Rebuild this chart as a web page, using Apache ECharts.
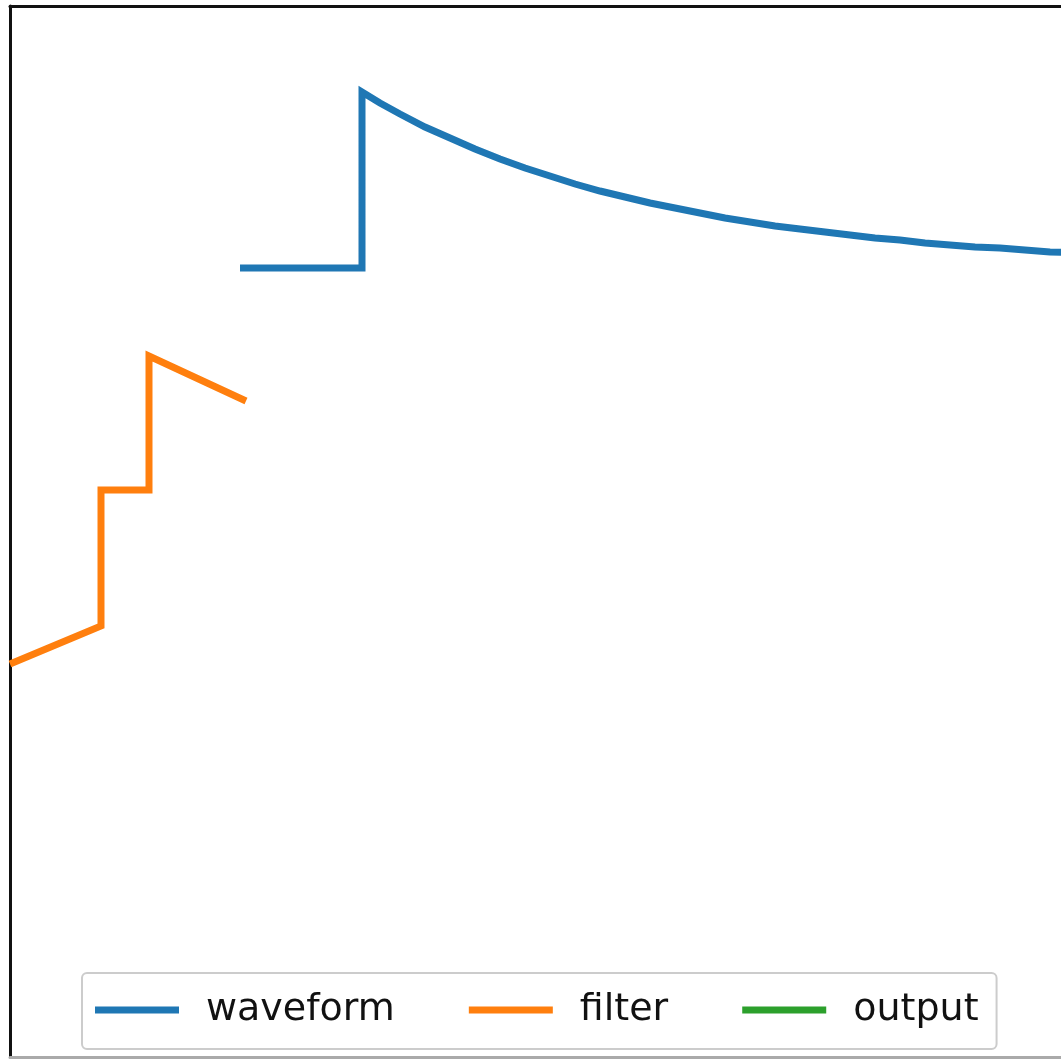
<!DOCTYPE html>
<html>
<head>
<meta charset="utf-8">
<script src="https://cdn.jsdelivr.net/npm/echarts@6/dist/echarts.min.js"></script>
<style>
  html, body { margin: 0; padding: 0; background: #fff; }
  #chart { width: 1061px; height: 1062px; }
</style>
</head>
<body>
<div id="chart"></div>
<script>
// series names
const seriesNames = ['waveform', 'filter', 'output']

// [time, amplitude] pairs
const waveformData = [
  [2.30, 7.89], [3.52, 7.89], [3.52, 9.65], [3.70, 9.54], [3.90, 9.43],
  [4.15, 9.30], [4.40, 9.19], [4.65, 9.08], [4.90, 8.98], [5.15, 8.89],
  [5.40, 8.81], [5.65, 8.73], [5.90, 8.66], [6.15, 8.60], [6.40, 8.54],
  [6.65, 8.49], [6.90, 8.44], [7.15, 8.39], [7.40, 8.35], [7.65, 8.31],
  [7.90, 8.28], [8.15, 8.25], [8.40, 8.22], [8.65, 8.19], [8.90, 8.17],
  [9.15, 8.14], [9.40, 8.12], [9.65, 8.10], [9.90, 8.09], [10.15, 8.07],
  [10.40, 8.05], [10.70, 8.04]
]
const filterData = [
  [0.00, 3.93], [0.91, 4.31], [0.91, 5.67], [1.39, 5.67], [1.39, 7.01], [2.36, 6.56]
]
const outputData = []

const xRange = [0, 10.51]
const yRange = [0, 10.51]

const chart = echarts.init(document.getElementById('chart'))

const hiddenAxis = {
  axisLabel: { show: false },
  axisTick: { show: false },
  splitLine: { show: false }
}

const lineSeries = (name, data, color) => ({
  name,
  type: 'line',
  data,
  showSymbol: false,
  symbol: 'none',
  lineStyle: { width: 7, color, join: 'miter', cap: 'butt' },
  itemStyle: { color }
})

const option = {
  animation: false,
  backgroundColor: '#fff',
  grid: { left: 10, right: 0, top: 6, bottom: 5 },
  xAxis: [{
    type: 'value', min: xRange[0], max: xRange[1], position: 'bottom',
    axisLine: { show: true, onZero: false, lineStyle: { color: '#aaa', width: 3 } },
    ...hiddenAxis
  }, {
    type: 'value', min: xRange[0], max: xRange[1], position: 'top',
    axisLine: { show: true, onZero: false, lineStyle: { color: '#111', width: 3 } },
    ...hiddenAxis
  }],
  yAxis: {
    type: 'value', min: yRange[0], max: yRange[1],
    axisLine: { show: true, onZero: false, lineStyle: { color: '#111', width: 3 } },
    ...hiddenAxis
  },
  legend: {
    data: seriesNames,
    left: 82,
    top: 973,
    icon: 'rect',
    itemWidth: 84,
    itemHeight: 7,
    itemGap: 74,
    padding: [18, 18, 20, 13],
    borderColor: '#ccc',
    borderWidth: 2,
    borderRadius: 5,
    backgroundColor: '#fff',
    textStyle: {
      fontFamily: 'DejaVu Sans',
      fontSize: 38,
      color: '#111',
      padding: [0, 0, 0, 22]
    }
  },
  series: [
    lineSeries(seriesNames[0], waveformData, '#1f77b4'),
    lineSeries(seriesNames[1], filterData, '#ff7f0e'),
    lineSeries(seriesNames[2], outputData, '#2ca02c')
  ]
}

chart.setOption(option)
</script>
</body>
</html>
